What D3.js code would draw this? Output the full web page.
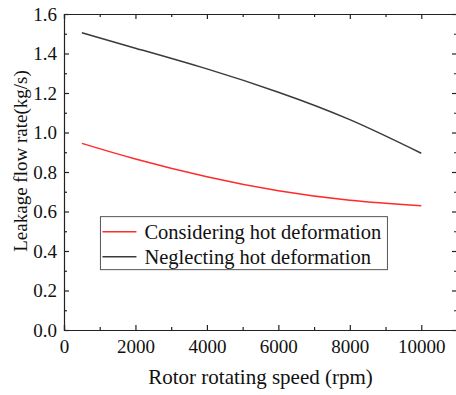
<!DOCTYPE html>
<html>
<head>
<meta charset="utf-8">
<script src="https://cdn.jsdelivr.net/npm/d3@7"></script>
<style>
  body { margin: 0; background: #fff; }
  svg text { font-family: "Liberation Serif", "Times New Roman", serif; fill: #111; }
</style>
</head>
<body>
<div class="chart"></div>
<script>
const speeds = [500, 2000, 4000, 6000, 8000, 10000]
const considering = [0.945, 0.866, 0.776, 0.705, 0.657, 0.629]
const neglecting = [1.505, 1.427, 1.322, 1.204, 1.065, 0.895]
const seriesNames = ['Considering hot deformation', 'Neglecting hot deformation']
const seriesColors = ['#ff2a2a', '#3a3a3a']
const xTicks = [0, 2000, 4000, 6000, 8000, 10000]
const yTicks = [0, 0.2, 0.4, 0.6, 0.8, 1.0, 1.2, 1.4, 1.6]

const margin = { top: 14, right: -1, bottom: 65, left: 64 }
const W = 456, H = 395
const width = W - margin.left - margin.right
const height = H - margin.top - margin.bottom

const svg = d3.select('.chart').append('svg')
  .attr('width', W).attr('height', H)

const g = svg.append('g').attr('transform', `translate(${margin.left}, ${margin.top})`)

const x = d3.scaleLinear().domain([0, 11000]).range([0, width])
const y = d3.scaleLinear().domain([0, 1.6]).range([height, 0])

// minor ticks halfway between majors
const xMinor = d3.range(1000, 11000, 2000)
const yMinor = d3.range(0.1, 1.6, 0.2)

function styled(axis) {
  return sel => {
    sel.call(axis)
    sel.select('.domain').attr('stroke', '#222').attr('stroke-width', 1.2)
    sel.selectAll('.tick line').attr('stroke', '#222').attr('stroke-width', 1.2)
  }
}

// bottom
g.append('g').attr('transform', `translate(0, ${height})`)
  .call(styled(d3.axisBottom(x).tickValues(xTicks).tickSize(-5).tickFormat(d3.format('d'))))
  .call(a => a.selectAll('.tick text').attr('font-size', 19).attr('y', 23).attr('dy', 0))
g.append('g').attr('transform', `translate(0, ${height})`)
  .call(styled(d3.axisBottom(x).tickValues(xMinor).tickSize(-3).tickFormat('')))
  .call(a => a.select('.domain').remove())

// top
g.append('g')
  .call(styled(d3.axisTop(x).tickValues(xTicks).tickSize(-5).tickFormat('')))
g.append('g')
  .call(styled(d3.axisTop(x).tickValues(xMinor).tickSize(-3).tickFormat('')))
  .call(a => a.select('.domain').remove())

// left
g.append('g')
  .call(styled(d3.axisLeft(y).tickValues(yTicks).tickSize(-5).tickPadding(8).tickFormat(d3.format('.1f'))))
  .call(a => a.selectAll('.tick text').attr('font-size', 19).attr('x', -7))
g.append('g')
  .call(styled(d3.axisLeft(y).tickValues(yMinor).tickSize(-3).tickFormat('')))
  .call(a => a.select('.domain').remove())

// right
g.append('g').attr('transform', `translate(${width}, 0)`)
  .call(styled(d3.axisRight(y).tickValues(yTicks).tickSize(-5).tickFormat('')))
g.append('g').attr('transform', `translate(${width}, 0)`)
  .call(styled(d3.axisRight(y).tickValues(yMinor).tickSize(-3).tickFormat('')))
  .call(a => a.select('.domain').remove())

const line = d3.line()
  .x(d => x(d[0]))
  .y(d => y(d[1]))
  .curve(d3.curveNatural)

;[considering, neglecting].forEach((vals, i) => {
  g.append('path')
    .datum(speeds.map((s, j) => [s, vals[j]]))
    .attr('fill', 'none')
    .attr('stroke', seriesColors[i])
    .attr('stroke-width', 1.5)
    .attr('d', line)
})

// legend
const legend = g.append('g').attr('transform', `translate(${x(1020)}, ${y(0.574)})`)
legend.append('rect')
  .attr('width', 287).attr('height', 53)
  .attr('fill', '#fff').attr('stroke', '#555').attr('stroke-width', 1)
seriesNames.forEach((name, i) => {
  const row = legend.append('g').attr('transform', `translate(0, ${15 + i * 25})`)
  row.append('line')
    .attr('x1', 2).attr('x2', 36)
    .attr('stroke', seriesColors[i]).attr('stroke-width', 1.5)
  row.append('text')
    .attr('x', 44).attr('dy', '0.35em')
    .attr('font-size', 20.5)
    .text(name)
})

// axis titles
svg.append('text')
  .attr('x', margin.left + x(5500)).attr('y', 384)
  .attr('text-anchor', 'middle').attr('font-size', 21)
  .text('Rotor rotating speed (rpm)')

svg.append('text')
  .attr('transform', `translate(27, 161) rotate(-90)`)
  .attr('text-anchor', 'middle').attr('font-size', 19)
  .text('Leakage flow rate(kg/s)')
</script>
</body>
</html>
